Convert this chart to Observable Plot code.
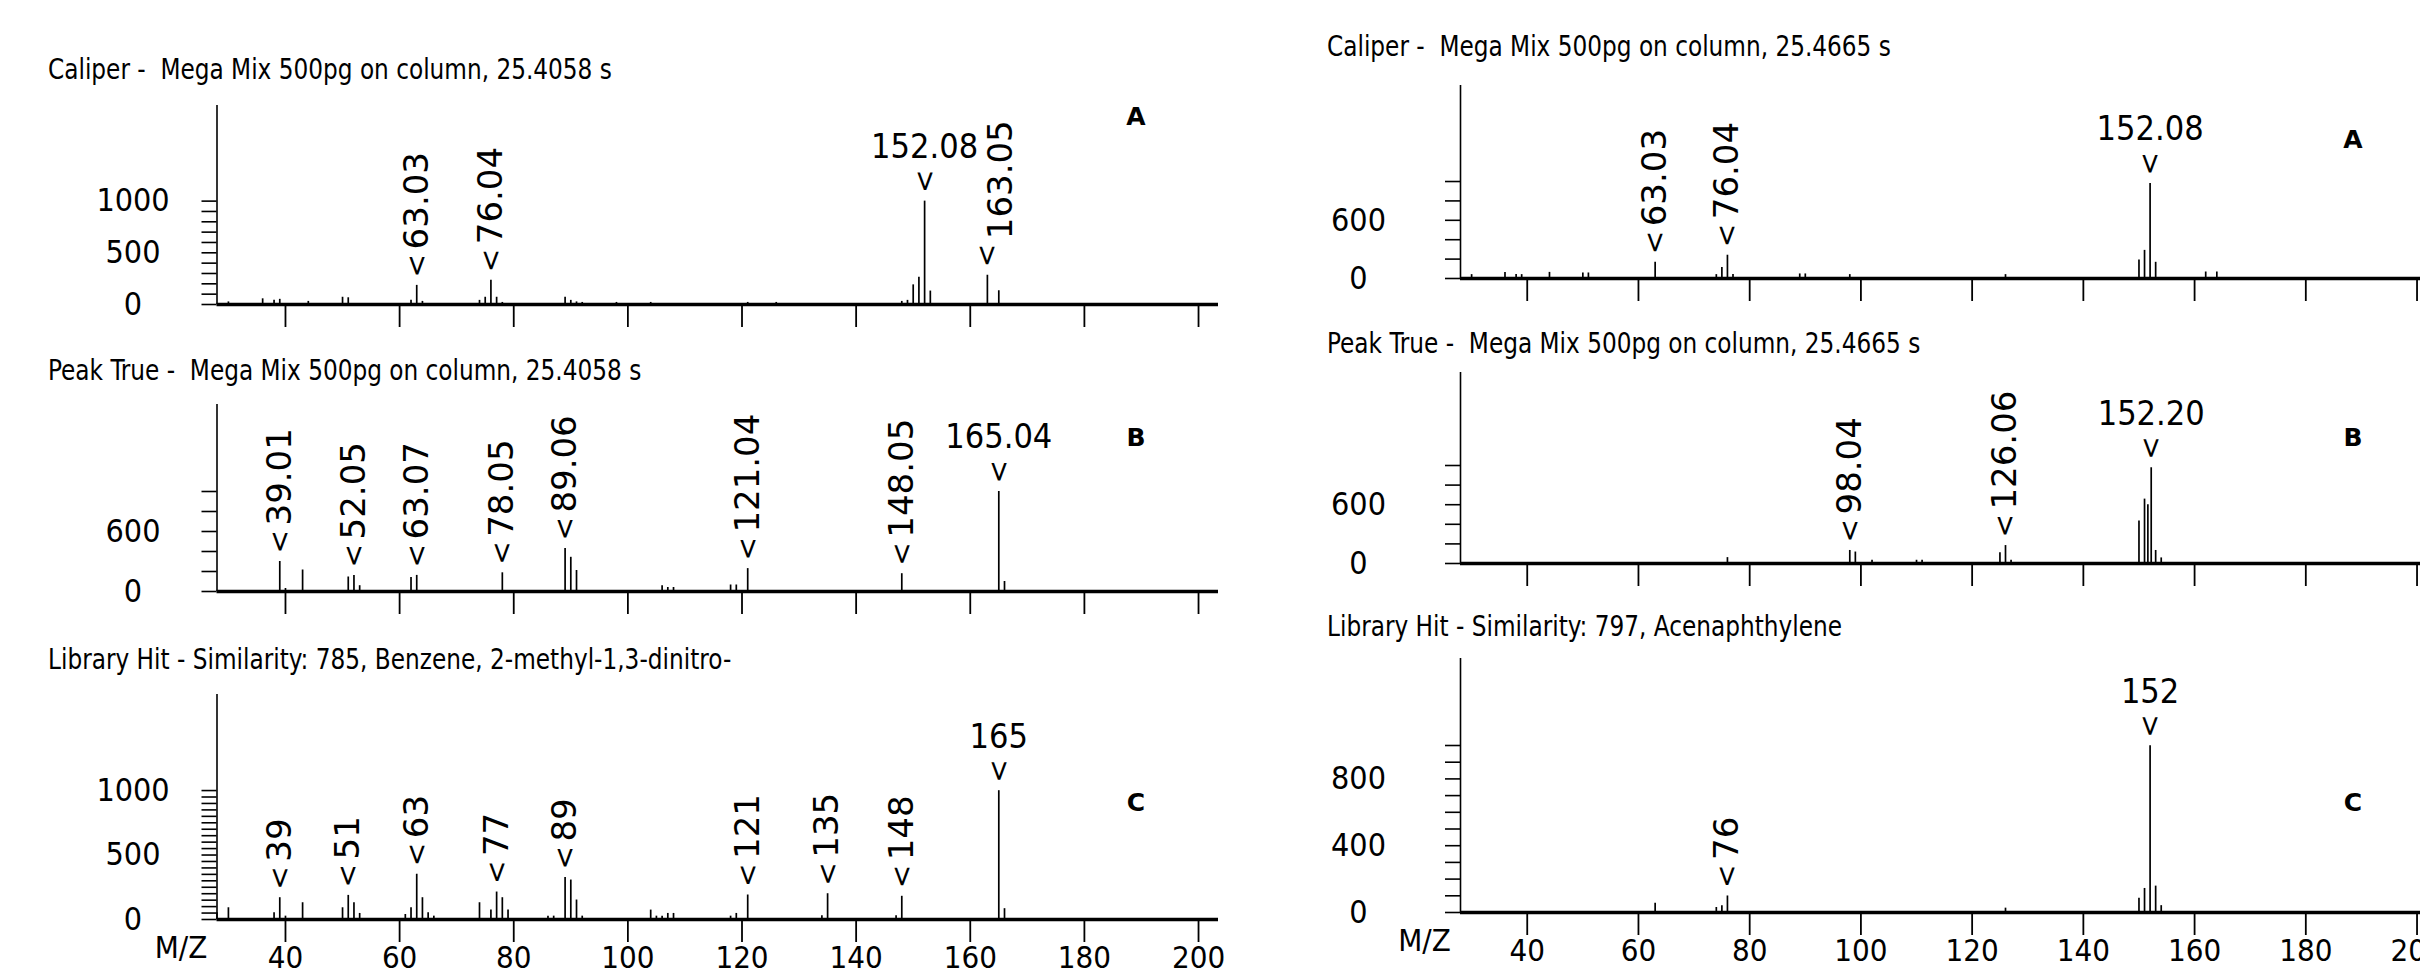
<!DOCTYPE html>
<html><head><meta charset="utf-8">
<script src="https://cdn.jsdelivr.net/npm/d3@7"></script>
<script src="https://cdn.jsdelivr.net/npm/@observablehq/plot@0.6"></script>
<style>
html,body{margin:0;padding:0;background:#fff;overflow:hidden;}
#root{position:relative;width:2420px;height:980px;overflow:hidden;background:#fff;}
.title{position:absolute;font-family:"DejaVu Sans Condensed","DejaVu Sans",sans-serif;font-stretch:condensed;font-size:29px;color:#000;white-space:pre;line-height:29px;transform-origin:0 50%;}
.letter{position:absolute;font-family:"DejaVu Sans",sans-serif;font-weight:bold;font-size:25px;color:#000;line-height:25px;}
.panel{position:absolute;}
</style></head><body><div id="root"></div><script>
// ---------------- data ----------------
const mzTicks = [40, 60, 80, 100, 120, 140, 160, 180, 200];
const panelLetters = ["A", "B", "C"];
const leftTitles = [
  "Caliper -  Mega Mix 500pg on column, 25.4058 s",
  "Peak True -  Mega Mix 500pg on column, 25.4058 s",
  "Library Hit - Similarity: 785, Benzene, 2-methyl-1,3-dinitro-"
];
const rightTitles = [
  "Caliper -  Mega Mix 500pg on column, 25.4665 s",
  "Peak True -  Mega Mix 500pg on column, 25.4665 s",
  "Library Hit - Similarity: 797, Acenaphthylene"
];

// Left A: Caliper, 25.4058 s
const leftA_mz  = [30, 36, 38, 39, 44, 50, 51, 62, 63, 64, 74, 75, 76, 77, 78, 89, 90, 91, 92, 98, 104, 121, 126, 148, 149, 150, 151, 152, 153, 163, 165];
const leftA_int = [25, 55, 40, 50, 30, 70, 65, 40, 185, 30, 40, 70, 235, 70, 20, 70, 40, 25, 20, 20, 20, 20, 20, 30, 40, 190, 263, 1000, 130, 283, 133];
const leftA_rot = ["63.03", "76.04", "163.05"];
const leftA_flat = ["152.08"];
const leftA_yMinor = [0, 100, 200, 300, 400, 500, 600, 700, 800, 900, 1000];
const leftA_yLabels = [0, 500, 1000];

// Left B: Peak True, 25.4058 s
const leftB_mz  = [39, 40, 43, 51, 52, 53, 62, 63, 78, 89, 90, 91, 106, 107, 108, 118, 119, 121, 148, 165, 166];
const leftB_int = [300, 30, 215, 145, 161, 58, 139, 161, 187, 429, 342, 210, 58, 40, 40, 65, 65, 229, 178, 1000, 100];
const leftB_rot = ["39.01", "52.05", "63.07", "78.05", "89.06", "121.04", "148.05"];
const leftB_flat = ["165.04"];
const leftB_yMinor = [0, 200, 400, 600, 800, 1000];
const leftB_yLabels = [0, 600];

// Left C: Library hit, Benzene, 2-methyl-1,3-dinitro-
const leftC_mz  = [28, 30, 38, 39, 40, 43, 50, 51, 52, 53, 61, 62, 63, 64, 65, 66, 74, 76, 77, 78, 79, 86, 87, 89, 90, 91, 92, 104, 105, 106, 107, 108, 118, 119, 121, 134, 135, 147, 148, 165, 166];
const leftC_int = [52, 91, 52, 169, 26, 130, 91, 187, 130, 47, 39, 91, 351, 169, 52, 26, 130, 73, 213, 169, 73, 26, 26, 325, 306, 151, 26, 73, 26, 26, 47, 47, 26, 47, 190, 30, 200, 30, 180, 999, 84];
const leftC_rot = ["39", "51", "63", "77", "89", "121", "135", "148"];
const leftC_flat = ["165"];
const leftC_yMinor = [0, 50, 100, 150, 200, 250, 300, 350, 400, 450, 500, 550, 600, 650, 700, 750, 800, 850, 900, 950, 1000];
const leftC_yLabels = [0, 500, 1000];

// Right A: Caliper, 25.4665 s
const rightA_mz  = [30, 36, 38, 39, 44, 50, 51, 63, 74, 75, 76, 77, 89, 90, 98, 126, 150, 151, 152, 153, 162, 164];
const rightA_int = [40, 63, 40, 40, 63, 57, 57, 167, 40, 113, 240, 40, 47, 47, 40, 40, 190, 290, 980, 167, 67, 67];
const rightA_rot = ["63.03", "76.04"];
const rightA_flat = ["152.08"];
const rightA_yMinor = [0, 200, 400, 600, 800, 1000];
const rightA_yLabels = [0, 600];

// Right B: Peak True, 25.4665 s
const rightB_mz  = [76, 98, 99, 102, 110, 111, 125, 126, 127, 150, 151, 151.6, 152.2, 153, 154];
const rightB_int = [60, 133, 117, 33, 33, 33, 110, 183, 33, 433, 657, 600, 977, 133, 57];
const rightB_rot = ["98.04", "126.06"];
const rightB_flat = ["152.20"];
const rightB_yMinor = [0, 200, 400, 600, 800, 1000];
const rightB_yLabels = [0, 600];

// Right C: Library hit, Acenaphthylene
const rightC_mz  = [63, 74, 75, 76, 126, 150, 151, 152, 153, 154];
const rightC_int = [55, 30, 41, 99, 26, 85, 144, 999, 158, 41];
const rightC_rot = ["76"];
const rightC_flat = ["152"];
const rightC_yMinor = [0, 100, 200, 300, 400, 500, 600, 700, 800, 900, 1000];
const rightC_yLabels = [0, 400, 800];

// ---------------- drawing ----------------
const COND = '"DejaVu Sans Condensed", "DejaVu Sans", sans-serif';
const WIDE = '"DejaVu Sans", sans-serif';
const root = document.getElementById("root");

function peaksOf(mz, ints) { return mz.map((m, i) => ({mz: m, v: ints[i]})); }
function labelled(peaks, labels) {
  return labels.map(l => {
    const t = +l;
    let best = peaks[0];
    for (const p of peaks) if (Math.abs(p.mz - t) < Math.abs(best.mz - t)) best = p;
    return {mz: best.mz, v: best.v, label: l};
  });
}

function addText(cls, txt, x, y, center) {
  const d = document.createElement("div");
  d.className = cls;
  d.textContent = txt;
  d.style.left = x + "px";
  d.style.top = y + "px";
  d.style.transform = center ? "translate(-50%, -50%)" : "translate(0, -50%) scaleX(0.89)";
  root.appendChild(d);
}

function drawPanel(g) {
  const peaks = peaksOf(g.mz, g.ints);
  const rot = labelled(peaks, g.rot);
  const flat = labelled(peaks, g.flat);
  const all = rot.concat(flat);
  const marginTop = 30;
  const marginBottom = g.bottom ? 80 : 34;
  const height = (g.baseline - g.axisTop) + marginTop + marginBottom;
  const nudge = g.nudge || {};
  const rotMarks = rot.map(d => Plot.text([d], {
    x: "mz", y: "v", text: "label", rotate: -90, textAnchor: "start", lineAnchor: "middle",
    dy: -36, dx: nudge[d.label] || 0, fontSize: 34, fontFamily: WIDE
  }));
  const chart = Plot.plot({
    width: g.width,
    height,
    marginLeft: g.marginLeft,
    marginRight: g.marginRight,
    marginTop,
    marginBottom,
    x: {domain: [28, 203.5], label: null},
    y: {domain: [0, g.yMax], label: null},
    style: {fontFamily: COND, fontSize: "31px", color: "#000", background: "transparent"},
    marks: [
      Plot.ruleX(peaks, {x: "mz", y1: 0, y2: "v", stroke: "#000", strokeWidth: 1.7}),
      Plot.ruleX([28], {stroke: "#000", strokeWidth: 1.6}),
      Plot.axisY(g.yMinor, {label: null, tickSize: 15, tickFormat: () => "", stroke: "#000", strokeWidth: 1.6}),
      Plot.text(g.yLabels, {y: d => d, text: d => String(d), frameAnchor: "left", dx: g.labelDx, textAnchor: "middle", fontSize: 32, fontFamily: COND}),
      Plot.axisX(mzTicks, {label: null, tickSize: 23, tickPadding: 3, tickFormat: g.bottom ? (d => String(d)) : (() => ""), stroke: "#000", strokeWidth: 1.8, fontSize: 31, fontFamily: COND}),
      Plot.ruleY([0], {stroke: "#000", strokeWidth: 3.4}),
      Plot.text(all, {x: "mz", y: "v", text: () => "<", rotate: -90, textAnchor: "start", lineAnchor: "middle", dy: -8, fontSize: 28, fontFamily: WIDE}),
      ...rotMarks,
      Plot.text(flat, {x: "mz", y: "v", text: "label", lineAnchor: "middle", dy: -54, fontSize: 34, fontFamily: COND}),
      g.bottom ? Plot.text(["M/Z"], {frameAnchor: "bottom-left", text: d => d, dx: -36, dy: 38, textAnchor: "middle", fontSize: 31, fontFamily: COND}) : null
    ]
  });
  chart.classList.add("panel");
  chart.style.left = g.left + "px";
  chart.style.top = (g.axisTop - marginTop) + "px";
  root.appendChild(chart);
}

// column geometry
const L = {left: 0, width: 1240, marginLeft: 216.5, marginRight: 22, labelDx: -84};
const R = {left: 1240, width: 1240, marginLeft: 220, marginRight: 44, labelDx: -102};

drawPanel({...L, axisTop: 105, baseline: 304, yMax: 1925, mz: leftA_mz, ints: leftA_int, rot: leftA_rot, flat: leftA_flat, yMinor: leftA_yMinor, yLabels: leftA_yLabels, bottom: false, nudge: {"163.05": 14}});
drawPanel({...L, axisTop: 404, baseline: 591, yMax: 1870, mz: leftB_mz, ints: leftB_int, rot: leftB_rot, flat: leftB_flat, yMinor: leftB_yMinor, yLabels: leftB_yLabels, bottom: false});
drawPanel({...L, axisTop: 694, baseline: 919, yMax: 1745, mz: leftC_mz, ints: leftC_int, rot: leftC_rot, flat: leftC_flat, yMinor: leftC_yMinor, yLabels: leftC_yLabels, bottom: true});
drawPanel({...R, axisTop: 85, baseline: 278, yMax: 1990, mz: rightA_mz, ints: rightA_int, rot: rightA_rot, flat: rightA_flat, yMinor: rightA_yMinor, yLabels: rightA_yLabels, bottom: false});
drawPanel({...R, axisTop: 372, baseline: 563, yMax: 1949, mz: rightB_mz, ints: rightB_int, rot: rightB_rot, flat: rightB_flat, yMinor: rightB_yMinor, yLabels: rightB_yLabels, bottom: false});
drawPanel({...R, axisTop: 658, baseline: 912, yMax: 1521, mz: rightC_mz, ints: rightC_int, rot: rightC_rot, flat: rightC_flat, yMinor: rightC_yMinor, yLabels: rightC_yLabels, bottom: true});

// titles and panel letters
[69, 370, 659].forEach((y, i) => addText("title", leftTitles[i], 48, y, false));
[46, 343, 626].forEach((y, i) => addText("title", rightTitles[i], 1327, y, false));
[116, 437, 802].forEach((y, i) => addText("letter", panelLetters[i], 1136, y, true));
[139, 437, 802].forEach((y, i) => addText("letter", panelLetters[i], 2353, y, true));
</script></body></html>
